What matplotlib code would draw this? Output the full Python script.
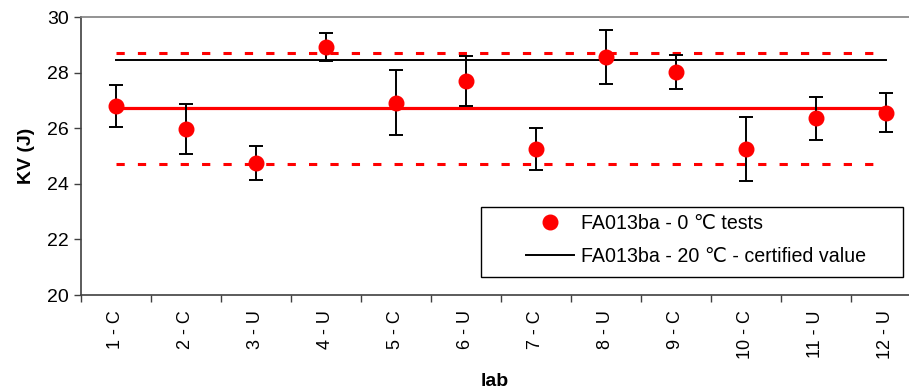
import numpy as np
import matplotlib.pyplot as plt
from matplotlib.patches import Rectangle

plt.rcParams['font.family'] = ['Liberation Sans', 'DejaVu Sans']

# KV results per lab at 0 °C, with their spread
labs = ['1 - C', '2 - C', '3 - U', '4 - U', '5 - C', '6 - U',
        '7 - C', '8 - U', '9 - C', '10 - C', '11 - U', '12 - U']
kv_mean = [26.80, 25.96, 24.74, 28.92, 26.92, 27.70,
           25.26, 28.55, 28.03, 25.26, 26.35, 26.55]
kv_err = [0.77, 0.90, 0.61, 0.50, 1.16, 0.90,
          0.75, 0.97, 0.62, 1.16, 0.78, 0.70]

overall_mean = 26.71
band = 2.0
certified = 28.44

x = np.arange(1, len(labs) + 1)

fig = plt.figure(figsize=(9.09, 3.92), dpi=100)
ax = fig.add_axes([81 / 909, 97 / 392, 840 / 909, 278 / 392])

ax.plot([x[0], x[-1]], [overall_mean + band] * 2, color='#ff0000', lw=2.2,
        dashes=(2.7, 4.3), zorder=2)
ax.plot([x[0], x[-1]], [overall_mean - band] * 2, color='#ff0000', lw=2.2,
        dashes=(2.7, 4.3), zorder=2)
ax.plot([x[0], x[-1]], [overall_mean] * 2, color='#ff0000', lw=2.3, zorder=2)
ax.plot([x[0], x[-1]], [certified] * 2, color='black', lw=1.4, zorder=2,
        label='FA013ba - 20 \u2103 - certified value')

ax.errorbar(x, kv_mean, yerr=kv_err, fmt='none', ecolor='black', elinewidth=1.4,
            capsize=4.8, capthick=1.4, zorder=3)
ax.plot(x, kv_mean, 'o', color='#ff0000', ms=10.5, zorder=4,
        label='FA013ba - 0 \u2103 tests')

ax.set_xlim(0.5, 12.5)
ax.set_ylim(20, 30)
ax.set_yticks(range(20, 31, 2))
ax.set_xticks(x)
ax.set_xticklabels(labs, rotation=90, fontsize=13)
ax.set_xticks(np.arange(0.5, 13, 1), minor=True)
ax.tick_params(axis='x', which='major', length=0, pad=11)
ax.tick_params(axis='x', which='minor', length=5, width=1, direction='out', color='#404040')
ax.tick_params(axis='y', labelsize=14, length=5, width=1, direction='out', color='#404040')

for side in ['left', 'bottom']:
    ax.spines[side].set_color('#404040')
    ax.spines[side].set_linewidth(1.2)
ax.spines['top'].set_color('#808080')
ax.spines['top'].set_linewidth(1.2)
ax.spines['right'].set_color('#808080')

ax.set_ylabel('KV (J)', fontsize=14, fontweight='bold', labelpad=9)
fig.text(495 / 909, 11 / 392, 'lab', fontsize=14, fontweight='bold', ha='center', va='center')

# legend box drawn separately so the entries can sit inset from its left edge
fig.patches.append(Rectangle((481 / 909, 115 / 392), 422 / 909, 70 / 392,
                             transform=fig.transFigure, facecolor='white',
                             edgecolor='black', lw=1.0, zorder=5))
handles, labels = ax.get_legend_handles_labels()
leg = fig.legend(handles[::-1], labels[::-1], loc='center left',
                 bbox_to_anchor=(526 / 909, 152 / 392), fontsize=14.1,
                 frameon=False, handlelength=2.47, borderaxespad=0, borderpad=0,
                 labelspacing=0.75, handletextpad=0.36)
leg.set_zorder(6)

fig.savefig('out.png', dpi=100)
